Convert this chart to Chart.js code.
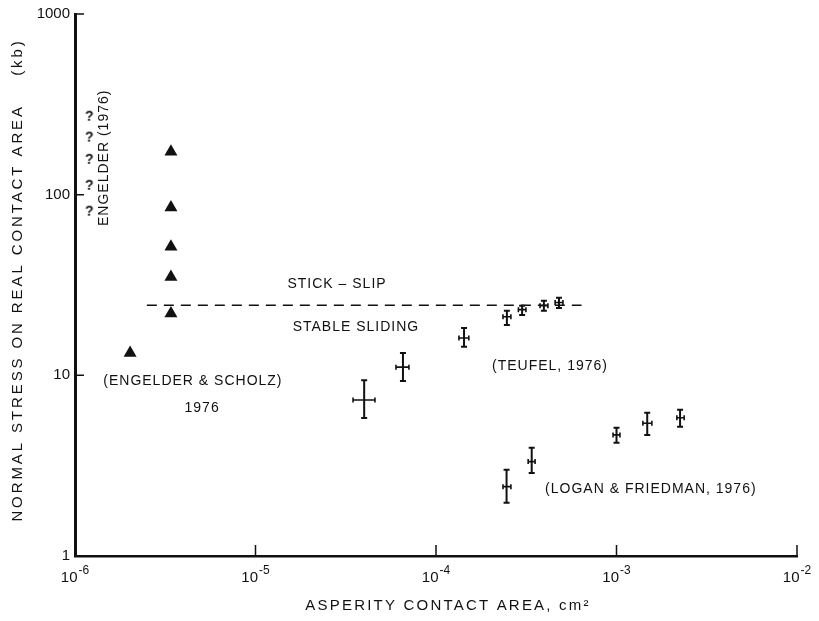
<!DOCTYPE html>
<html>
<head>
<meta charset="utf-8">
<script src="https://cdn.jsdelivr.net/npm/chart.js@4"></script>
<style>
  body { margin: 0; background: #fff; }
</style>
</head>
<body>
<canvas id="chart" width="819" height="621"></canvas>
<script>
// axis ticks (x labels are 10 to the power of xTickExp)
const xTicks = [1e-6, 1e-5, 1e-4, 1e-3, 1e-2];
const xTickExp = ['-6', '-5', '-4', '-3', '-2'];
const yTicks = [1, 10, 100, 1000];
const yTickLabels = ['1', '10', '100', '1000'];

// Engelder (1976) - question marks
const engelderX = [1.2e-6, 1.2e-6, 1.2e-6, 1.2e-6, 1.2e-6];
const engelderY = [270, 207, 156, 112, 80.5];

// triangles
const triX = [2.02e-6, 3.4e-6, 3.4e-6, 3.4e-6, 3.4e-6, 3.4e-6];
const triY = [13.3, 173, 85, 51.5, 35, 22];

// stick-slip / stable sliding boundary
const boundaryX = [2.5e-6, 6.4e-4];
const boundaryY = [24.4, 24.4];

// Teufel (1976)
const teufelX = [4.0e-5, 6.56e-5, 1.43e-4, 2.47e-4, 3.0e-4, 3.96e-4, 4.8e-4];
const teufelXLo = [3.47e-5, 6.0e-5, 1.34e-4, 2.35e-4, 2.86e-4, 3.77e-4, 4.57e-4];
const teufelXHi = [4.59e-5, 7.08e-5, 1.52e-4, 2.6e-4, 3.15e-4, 4.17e-4, 5.05e-4];
const teufelY = [7.3, 11.1, 16.1, 21.1, 23.1, 24.3, 25.3];
const teufelYLo = [5.8, 9.3, 14.4, 19.0, 21.6, 22.8, 23.6];
const teufelYHi = [9.4, 13.3, 18.3, 22.8, 24.3, 25.9, 26.9];

// Logan & Friedman (1976)
const loganX = [2.46e-4, 3.39e-4, 1.0e-3, 1.48e-3, 2.25e-3];
const loganXLo = [2.35e-4, 3.24e-4, 9.57e-4, 1.40e-3, 2.16e-3];
const loganXHi = [2.6e-4, 3.54e-4, 1.045e-3, 1.57e-3, 2.37e-3];
const loganY = [2.42, 3.33, 4.68, 5.43, 5.82];
const loganYLo = [1.97, 2.88, 4.23, 4.68, 5.19];
const loganYHi = [3.0, 3.97, 5.12, 6.2, 6.44];

// text labels placed in data coordinates
const notes = [
    { text: 'STICK – SLIP', x: 2.83e-5, y: 32.1 },
    { text: 'STABLE SLIDING', x: 3.6e-5, y: 18.6 },
    { text: '(ENGELDER & SCHOLZ)', x: 4.5e-6, y: 9.32 },
    { text: '1976', x: 5.06e-6, y: 6.6 },
    { text: '(TEUFEL, 1976)', x: 4.28e-4, y: 11.3 },
    { text: '(LOGAN & FRIEDMAN, 1976)', x: 1.55e-3, y: 2.35 },
    { text: 'ENGELDER (1976)', x: 1.45e-6, y: 160, vertical: true }
];

const FONT = '"Liberation Sans", Arial, sans-serif';
const INK = '#111';

function toPoints(xs, ys) {
    return xs.map((x, i) => ({ x: x, y: ys[i] }));
}

// "?" marker for the Engelder points
function questionMark() {
    const c = document.createElement('canvas');
    c.width = 12;
    c.height = 18;
    const g = c.getContext('2d');
    g.fillStyle = INK;
    g.font = 'bold 14px ' + FONT;
    g.textAlign = 'center';
    g.textBaseline = 'middle';
    g.fillText('?', 6, 9);
    return c;
}

function drawCrosses(ctx, xs, ys, xv, yv, xLo, xHi, yLo, yHi) {
    for (let i = 0; i < xv.length; i++) {
        const px = xs.getPixelForValue(xv[i]);
        const py = ys.getPixelForValue(yv[i]);
        const top = ys.getPixelForValue(yHi[i]);
        const bot = ys.getPixelForValue(yLo[i]);
        const l = xs.getPixelForValue(xLo[i]);
        const r = xs.getPixelForValue(xHi[i]);
        // vertical bar + caps
        ctx.lineWidth = 2;
        ctx.beginPath();
        ctx.moveTo(px, top); ctx.lineTo(px, bot);
        ctx.moveTo(px - 3, top); ctx.lineTo(px + 3, top);
        ctx.moveTo(px - 3, bot); ctx.lineTo(px + 3, bot);
        ctx.stroke();
        // horizontal bar + caps
        ctx.lineWidth = 1.6;
        ctx.beginPath();
        ctx.moveTo(l, py); ctx.lineTo(r, py);
        ctx.moveTo(l, py - 2.5); ctx.lineTo(l, py + 2.5);
        ctx.moveTo(r, py - 2.5); ctx.lineTo(r, py + 2.5);
        ctx.stroke();
    }
}

const overlayPlugin = {
    id: 'overlay',
    afterDatasetsDraw(chart) {
        const ctx = chart.ctx;
        const xs = chart.scales.x;
        const ys = chart.scales.y;
        const area = chart.chartArea;
        ctx.save();
        ctx.strokeStyle = INK;
        ctx.fillStyle = INK;

        drawCrosses(ctx, xs, ys, teufelX, teufelY, teufelXLo, teufelXHi, teufelYLo, teufelYHi);
        drawCrosses(ctx, xs, ys, loganX, loganY, loganXLo, loganXHi, loganYLo, loganYHi);

        // inward tick marks
        ctx.lineWidth = 1.5;
        ctx.beginPath();
        xTicks.slice(1).forEach(v => {
            const px = xs.getPixelForValue(v);
            ctx.moveTo(px, area.bottom);
            ctx.lineTo(px, area.bottom - 11);
        });
        yTicks.slice(1).forEach(v => {
            const py = ys.getPixelForValue(v);
            ctx.moveTo(area.left, py);
            ctx.lineTo(area.left + 9, py);
        });
        ctx.stroke();

        // x tick labels: 10 with a raised exponent
        ctx.textBaseline = 'alphabetic';
        ctx.textAlign = 'left';
        ctx.letterSpacing = '0px';
        xTicks.forEach((v, i) => {
            const px = xs.getPixelForValue(v);
            ctx.font = '15px ' + FONT;
            const wb = ctx.measureText('10').width;
            ctx.font = '12px ' + FONT;
            const we = ctx.measureText(xTickExp[i]).width;
            const x0 = px - (wb + 1 + we) / 2;
            ctx.font = '15px ' + FONT;
            ctx.fillText('10', x0, area.bottom + 26);
            ctx.font = '12px ' + FONT;
            ctx.fillText(xTickExp[i], x0 + wb + 1, area.bottom + 18);
        });

        // notes
        ctx.font = '14px ' + FONT;
        ctx.letterSpacing = '1px';
        ctx.textAlign = 'center';
        ctx.textBaseline = 'middle';
        notes.forEach(n => {
            const px = xs.getPixelForValue(n.x);
            const py = ys.getPixelForValue(n.y);
            if (n.vertical) {
                ctx.save();
                ctx.translate(px, py);
                ctx.rotate(-Math.PI / 2);
                ctx.fillText(n.text, 0, 0);
                ctx.restore();
            } else {
                ctx.fillText(n.text, px, py);
            }
        });

        // axis titles
        ctx.font = '15px ' + FONT;
        ctx.letterSpacing = '2.9px';
        ctx.save();
        ctx.translate(18, 280);
        ctx.rotate(-Math.PI / 2);
        ctx.fillText('NORMAL STRESS ON REAL CONTACT AREA    (kb)', 0, 0);
        ctx.restore();
        ctx.letterSpacing = '2.2px';
        ctx.fillText('ASPERITY CONTACT AREA, cm²', 448, 606);

        ctx.restore();
    }
};

const chart = new Chart(document.getElementById('chart'), {
    type: 'scatter',
    data: {
        datasets: [
            {
                label: 'Engelder (1976)',
                data: toPoints(engelderX, engelderY),
                pointStyle: questionMark(),
                pointRadius: 6
            },
            {
                label: 'Engelder & Scholz (1976)',
                data: toPoints(triX, triY),
                pointStyle: 'triangle',
                pointRadius: 7.5,
                backgroundColor: INK,
                borderColor: INK,
                borderWidth: 0
            },
            {
                label: 'boundary',
                type: 'line',
                data: toPoints(boundaryX, boundaryY),
                borderColor: INK,
                borderWidth: 1.5,
                borderDash: [10, 7],
                pointRadius: 0,
                fill: false
            }
        ]
    },
    options: {
        responsive: false,
        animation: false,
        layout: { padding: { top: 14, right: 22, left: 0, bottom: 0 } },
        plugins: {
            legend: { display: false },
            tooltip: { enabled: false }
        },
        scales: {
            x: {
                type: 'logarithmic',
                min: 1e-6,
                max: 1e-2,
                grid: { display: false, drawTicks: false },
                border: { display: true, color: INK, width: 2.5 },
                afterBuildTicks: s => { s.ticks = xTicks.map(v => ({ value: v })); },
                afterFit: s => { s.height = 65; },
                ticks: { display: false, autoSkip: false }
            },
            y: {
                type: 'logarithmic',
                min: 1,
                max: 1000,
                grid: { display: false, drawTicks: false },
                border: { display: true, color: INK, width: 3 },
                afterBuildTicks: s => { s.ticks = yTicks.map(v => ({ value: v })); },
                afterFit: s => { s.width = 75; },
                ticks: {
                    autoSkip: false,
                    padding: 5,
                    color: INK,
                    font: { family: FONT, size: 15 },
                    callback: (v, i) => yTickLabels[i]
                }
            }
        }
    },
    plugins: [overlayPlugin]
});
</script>
</body>
</html>
